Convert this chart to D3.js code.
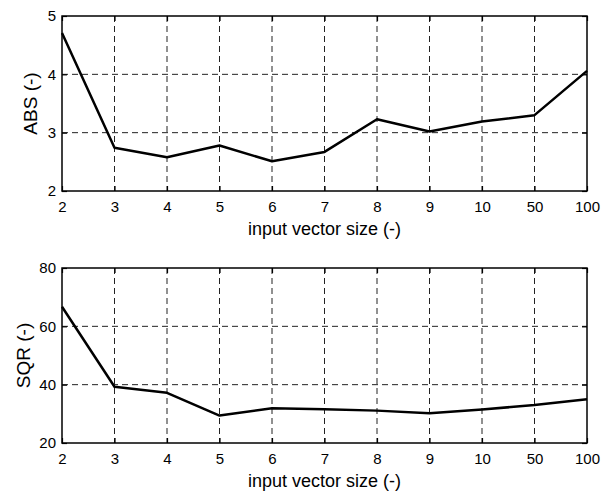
<!DOCTYPE html>
<html>
<head>
<meta charset="utf-8">
<script src="https://cdn.jsdelivr.net/npm/d3@7"></script>
<style>
  body { margin: 0; background: #fff; }
  text { font-family: "Liberation Sans", Arial, sans-serif; fill: #000; }
</style>
</head>
<body>
<div id="chart"></div>
<script>
// data
const vectorSizes = ['2', '3', '4', '5', '6', '7', '8', '9', '10', '50', '100'];
const absValues = [4.71, 2.74, 2.58, 2.78, 2.51, 2.67, 3.23, 3.02, 3.19, 3.30, 4.06];
const sqrValues = [66.7, 39.3, 37.2, 29.4, 31.9, 31.6, 31.1, 30.2, 31.5, 33.0, 35.0];
const absTicks = [2, 3, 4, 5];
const sqrTicks = [20, 40, 60, 80];

const width = 602, height = 494;
const left = 62, right = 587;

const svg = d3.select('#chart').append('svg')
    .attr('width', width)
    .attr('height', height);

function drawPanel(top, bottom, values, ticks, yLabel, labelX) {
    const x = d3.scalePoint().domain(vectorSizes).range([left, right]);
    const y = d3.scaleLinear().domain(d3.extent(ticks)).range([bottom, top]);
    const g = svg.append('g');

    // dashed grid
    g.selectAll('.vgrid')
        .data(vectorSizes.slice(1, -1))
        .join('line')
        .attr('x1', d => x(d)).attr('x2', d => x(d))
        .attr('y1', top).attr('y2', bottom)
        .attr('stroke', '#222').attr('stroke-width', 1)
        .attr('stroke-dasharray', '6,4');
    g.selectAll('.hgrid')
        .data(ticks.slice(1, -1))
        .join('line')
        .attr('x1', left).attr('x2', right)
        .attr('y1', d => y(d)).attr('y2', d => y(d))
        .attr('stroke', '#222').attr('stroke-width', 1)
        .attr('stroke-dasharray', '6,4');

    // inner ticks on all sides
    const tl = 5;
    g.append('g').attr('transform', `translate(0,${bottom})`)
        .call(d3.axisBottom(x).tickSize(-tl).tickPadding(10))
        .call(a => a.select('.domain').remove())
        .call(a => a.selectAll('text').attr('font-size', 15));
    g.append('g').attr('transform', `translate(0,${top})`)
        .call(d3.axisTop(x).tickSize(-tl).tickFormat(''))
        .call(a => a.select('.domain').remove());
    g.append('g').attr('transform', `translate(${left},0)`)
        .call(d3.axisLeft(y).tickValues(ticks).tickFormat(d3.format('d')).tickSize(-tl).tickPadding(6))
        .call(a => a.select('.domain').remove())
        .call(a => a.selectAll('text').attr('font-size', 15));
    g.append('g').attr('transform', `translate(${right},0)`)
        .call(d3.axisRight(y).tickValues(ticks).tickSize(-tl).tickFormat(''))
        .call(a => a.select('.domain').remove());
    g.selectAll('.tick line').attr('stroke', '#000').attr('stroke-width', 1.2);
    g.selectAll('.tick text').attr('font-family', '"Liberation Sans", Arial, sans-serif').attr('fill', '#000');

    // frame
    g.append('rect')
        .attr('x', left).attr('y', top)
        .attr('width', right - left).attr('height', bottom - top)
        .attr('fill', 'none').attr('stroke', '#000').attr('stroke-width', 1.5);

    // data line
    const line = d3.line()
        .x((d, i) => x(vectorSizes[i]))
        .y(d => y(d));
    g.append('path')
        .datum(values)
        .attr('d', line)
        .attr('fill', 'none')
        .attr('stroke', '#000')
        .attr('stroke-width', 2.5)
        .attr('stroke-linejoin', 'round');

    // axis labels
    g.append('text')
        .attr('x', (left + right) / 2)
        .attr('y', bottom + 44)
        .attr('text-anchor', 'middle')
        .attr('font-size', 18)
        .text('input vector size (-)');
    g.append('text')
        .attr('transform', `translate(${labelX},${(top + bottom) / 2}) rotate(-90)`)
        .attr('text-anchor', 'middle')
        .attr('font-size', 19)
        .text(yLabel);
}

drawPanel(16, 191, absValues, absTicks, 'ABS (-)', 37);
drawPanel(268, 443, sqrValues, sqrTicks, 'SQR (-)', 30);
</script>
</body>
</html>
